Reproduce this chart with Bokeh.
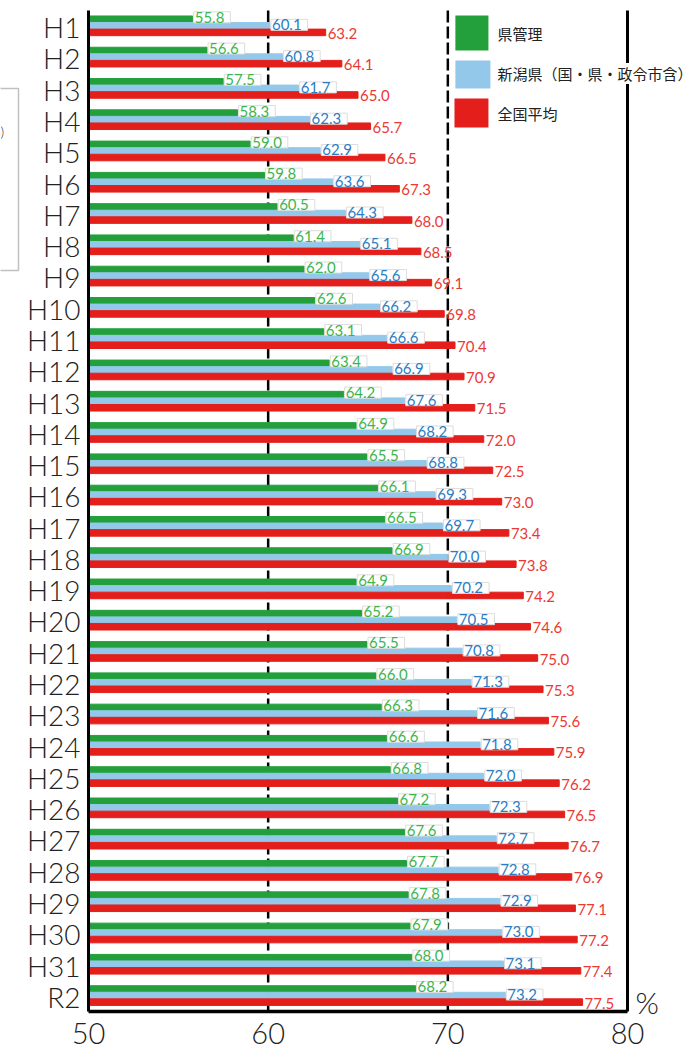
from bokeh.plotting import figure
from bokeh.models import ColumnDataSource, Range1d, Label, BoxAnnotation
from bokeh.embed import file_html
from bokeh.resources import INLINE
from bokeh.core.properties import value

categories = ["H1", "H2", "H3", "H4", "H5", "H6", "H7", "H8", "H9", "H10",
              "H11", "H12", "H13", "H14", "H15", "H16", "H17", "H18", "H19", "H20",
              "H21", "H22", "H23", "H24", "H25", "H26", "H27", "H28", "H29", "H30",
              "H31", "R2"]
ken_kanri = [55.8, 56.6, 57.5, 58.3, 59.0, 59.8, 60.5, 61.4, 62.0, 62.6,
             63.1, 63.4, 64.2, 64.9, 65.5, 66.1, 66.5, 66.9, 64.9, 65.2,
             65.5, 66.0, 66.3, 66.6, 66.8, 67.2, 67.6, 67.7, 67.8, 67.9,
             68.0, 68.2]
niigata = [60.1, 60.8, 61.7, 62.3, 62.9, 63.6, 64.3, 65.1, 65.6, 66.2,
           66.6, 66.9, 67.6, 68.2, 68.8, 69.3, 69.7, 70.0, 70.2, 70.5,
           70.8, 71.3, 71.6, 71.8, 72.0, 72.3, 72.7, 72.8, 72.9, 73.0,
           73.1, 73.2]
zenkoku = [63.2, 64.1, 65.0, 65.7, 66.5, 67.3, 68.0, 68.5, 69.1, 69.8,
           70.4, 70.9, 71.5, 72.0, 72.5, 73.0, 73.4, 73.8, 74.2, 74.6,
           75.0, 75.3, 75.6, 75.9, 76.2, 76.5, 76.7, 76.9, 77.1, 77.2,
           77.4, 77.5]
series_names = ["県管理", "新潟県（国・県・政令市含）", "全国平均"]
x_ticks = [50, 60, 70, 80]
x_min, x_max = 50, 80

GREEN = "#23a03b"
BLUE = "#93c8ea"
RED = "#e41f1b"
GREEN_T = "#3db54c"
BLUE_T = "#2a7dc3"
RED_T = "#ea3a33"
FONT_A = "Lato Light, Liberation Sans"
FONT_N = "Lato, Liberation Sans"

W, H = 699, 1048
n = len(categories)
# plot area: x 50..80 -> px 88..627, rows -> px 10..1011; frame covers the whole canvas
k = (627 - 88) / (x_max - x_min)
rowpx = (1011 - 10) / n
p = figure(width=W, height=H, output_backend="svg", toolbar_location=None,
           x_range=Range1d(x_min - 88 / k, x_max + (W - 627) / k),
           y_range=Range1d(n - 0.5 + (H - 1011) / rowpx, -0.5 - 10 / rowpx),
           min_border_left=0, min_border_right=0, min_border_top=0, min_border_bottom=0)
p.outline_line_color = None
p.xgrid.visible = False
p.ygrid.visible = False
p.xaxis.visible = False
p.yaxis.visible = False

idx = list(range(n))
bh = 0.21
offs = [-0.22, -0.01, 0.20]

src = ColumnDataSource(dict(
    yg=[i + offs[0] for i in idx], yb=[i + offs[1] for i in idx], yr=[i + offs[2] for i in idx],
    g=ken_kanri, b=niigata, r=zenkoku,
    gt=[f"{v:.1f}" for v in ken_kanri], bt=[f"{v:.1f}" for v in niigata], rt=[f"{v:.1f}" for v in zenkoku],
    cy=idx, cat=categories, x0=[x_min] * n,
))

top_y, bot_y = -0.5, n - 0.5
p.segment(x0=[60, 70], y0=[top_y, top_y], x1=[60, 70], y1=[bot_y, bot_y],
          line_color="black", line_width=2.5, line_dash="12 4", level="underlay")
p.segment(x0=[x_max], y0=[top_y], x1=[x_max], y1=[bot_y], line_color="black", line_width=3,
          level="underlay")

p.hbar(y="yg", left=x_min, right="g", height=bh, color=GREEN, source=src)
p.hbar(y="yb", left=x_min, right="b", height=bh, color=BLUE, source=src)
p.hbar(y="yr", left=x_min, right="r", height=bh, color=RED, source=src)

# axis lines
p.segment(x0=[x_min], y0=[top_y], x1=[x_min], y1=[bot_y], line_color="black", line_width=3)
p.segment(x0=[x_min], y0=[bot_y], x1=[x_max], y1=[bot_y], line_color="black", line_width=3.5)

common = dict(text_font=value(FONT_N), text_font_size="15px", text_baseline="middle",
              text_align="left", background_fill_color="white", border_line_color="#dcdcdc",
              border_line_width=1, padding=dict(left=1, right=6, top=0, bottom=0))
p.text(x="g", y="yg", text="gt", text_color=GREEN_T, x_offset=1, y_offset=-2, source=src, **common)
p.text(x="b", y="yb", text="bt", text_color=BLUE_T, x_offset=1, y_offset=-1, source=src, **common)
p.text(x="r", y="yr", text="rt", text_color=RED_T, x_offset=2, y_offset=1, source=src,
       text_font=value(FONT_N), text_font_size="15px", text_baseline="middle", text_align="left")

# category labels (y axis)
p.text(x="x0", y="cy", text="cat", x_offset=-8, y_offset=1, source=src,
       text_font=value(FONT_A), text_font_size="28px", text_color="#222222",
       text_baseline="middle", text_align="right")

# x tick labels
p.text(x=x_ticks, y=[bot_y] * len(x_ticks), text=[str(t) for t in x_ticks], y_offset=22,
       text_font=value(FONT_A), text_font_size="29px", text_color="#222222",
       text_baseline="middle", text_align="center")

# legend (manual)
p.add_layout(BoxAnnotation(left=70.42, right=72.26, top=-0.34, bottom=0.78,
                           fill_color=GREEN, fill_alpha=1, line_color=None))
p.add_layout(BoxAnnotation(left=70.42, right=72.37, top=1.10, bottom=1.99,
                           fill_color=BLUE, fill_alpha=1, line_color=None))
p.add_layout(BoxAnnotation(left=70.37, right=72.26, top=2.31, bottom=3.24,
                           fill_color=RED, fill_alpha=1, line_color=None))
for yy, name in zip([0.23, 1.51, 2.79], series_names):
    p.add_layout(Label(x=72.76, y=yy, text=name, text_font="Noto Sans CJK JP", text_font_size="15px",
                       text_baseline="middle", text_color="#222222",
                       background_fill_color="white", background_fill_alpha=1))

p.add_layout(Label(x=80.45, y=31.2, text="%", text_font=FONT_A, text_font_size="30px",
                   text_baseline="middle", text_color="#222222"))

# partial frame of a neighbouring box at the left edge
p.add_layout(BoxAnnotation(left=x_min - 100 / k, right=x_min - 70 / k, top=1.99, bottom=7.81,
                           fill_alpha=0, line_color="#333333", line_width=1.5))
p.add_layout(Label(x=x_min - 88 / k, y=3.36, text=")", text_font=FONT_A,
                   text_font_size="14px", text_baseline="middle", text_color="#333333"))

open("out.html", "w").write(file_html(p, INLINE))
